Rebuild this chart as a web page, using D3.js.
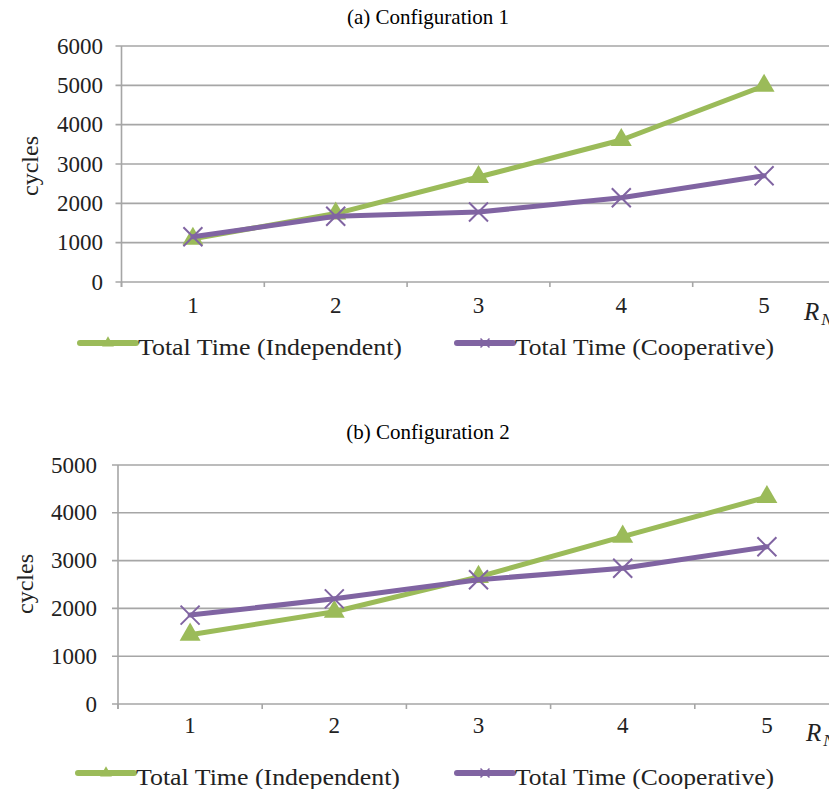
<!DOCTYPE html>
<html>
<head>
<meta charset="utf-8">
<script src="https://cdn.jsdelivr.net/npm/d3@7"></script>
<style>
  html, body { margin: 0; padding: 0; background: #ffffff; }
  svg { display: block; }
  text { font-family: "Liberation Serif", "Times New Roman", serif; fill: #222; }
</style>
</head>
<body>
<script>
// Ring count on the x axis
const categories = ["1", "2", "3", "4", "5"];

// Configuration 1 (cycles)
const independentA = [1100, 1740, 2670, 3610, 4990];
const cooperativeA = [1150, 1670, 1780, 2140, 2700];
const ticksA = [0, 1000, 2000, 3000, 4000, 5000, 6000];

// Configuration 2 (cycles)
const independentB = [1450, 1930, 2660, 3500, 4330];
const cooperativeB = [1860, 2200, 2600, 2840, 3290];
const ticksB = [0, 1000, 2000, 3000, 4000, 5000];

const seriesNames = ["Total Time (Independent)", "Total Time (Cooperative)"];
const GREEN = "#9bbb59";
const PURPLE = "#8064a2";
const GRID = "#a6a6a6";

const W = 829, H = 789;
const svg = d3.select("body").append("svg").attr("width", W).attr("height", H);

function panel(opts) {
  const g = svg.append("g");
  const x = d3.scaleBand().domain(categories).range([opts.left, opts.left + 5 * opts.band]).padding(0);
  const y = d3.scaleLinear().domain([0, d3.max(opts.ticks)]).range([opts.bottom, opts.top]);
  const cx = d => x(d) + x.bandwidth() / 2;

  // title
  g.append("text").attr("x", 428).attr("y", opts.titleY)
    .attr("text-anchor", "middle").style("font-size", "21px").style("fill", "#000")
    .text(opts.title);

  // horizontal gridlines and left ticks
  g.selectAll(".grid").data(opts.ticks).join("line")
    .attr("x1", opts.left - 6).attr("x2", W)
    .attr("y1", d => y(d)).attr("y2", d => y(d))
    .attr("stroke", GRID).attr("stroke-width", 1.6);

  // y axis line
  g.append("line").attr("x1", opts.left).attr("x2", opts.left)
    .attr("y1", y(d3.max(opts.ticks))).attr("y2", opts.bottom + 5)
    .attr("stroke", GRID).attr("stroke-width", 1.6);

  // x ticks at band boundaries
  const bounds = categories.map(c => x(c)).concat([x(categories[4]) + x.bandwidth()]);
  g.selectAll(".xt").data(bounds).join("line")
    .attr("x1", d => d).attr("x2", d => d)
    .attr("y1", opts.bottom).attr("y2", opts.bottom + 5)
    .attr("stroke", GRID).attr("stroke-width", 1.6);

  // y tick labels
  g.selectAll(".yl").data(opts.ticks).join("text")
    .attr("x", opts.labelRight).attr("y", d => y(d) + 7.5)
    .attr("text-anchor", "end").style("font-size", "23px")
    .text(d => d);

  // x tick labels
  g.selectAll(".xl").data(categories).join("text")
    .attr("x", d => cx(d)).attr("y", opts.xLabelY)
    .attr("text-anchor", "middle").style("font-size", "23px")
    .text(d => d);

  // x axis title R_N
  const rn = g.append("text").attr("x", opts.rnX).attr("y", opts.rnY)
    .style("font-size", "25px").style("font-style", "italic");
  rn.append("tspan").text("R");
  rn.append("tspan").attr("dy", 5).attr("dx", 2).style("font-size", "17px").text("N");

  // y axis title
  g.append("text")
    .attr("transform", `translate(${opts.cyclesX},${opts.cyclesY}) rotate(-90)`)
    .attr("text-anchor", "middle").style("font-size", "24px")
    .text("cycles");

  const line = d3.line().x((d, i) => cx(categories[i])).y(d => y(d));

  // independent series: line + triangles
  g.append("path").datum(opts.indep).attr("d", line)
    .attr("fill", "none").attr("stroke", GREEN).attr("stroke-width", 5)
    .attr("stroke-linejoin", "round").attr("stroke-linecap", "round");
  const tri = d3.symbol().type(d3.symbolTriangle).size(190);
  g.selectAll(".tri").data(opts.indep).join("path")
    .attr("d", tri)
    .attr("transform", (d, i) => `translate(${cx(categories[i])},${y(d)})`)
    .attr("fill", GREEN);

  // cooperative series: line + crosses
  g.append("path").datum(opts.coop).attr("d", line)
    .attr("fill", "none").attr("stroke", PURPLE).attr("stroke-width", 5)
    .attr("stroke-linejoin", "round").attr("stroke-linecap", "round");
  const s = 9.5;
  g.selectAll(".cross").data(opts.coop).join("path")
    .attr("d", `M${-s},${-s}L${s},${s}M${-s},${s}L${s},${-s}`)
    .attr("transform", (d, i) => `translate(${cx(categories[i])},${y(d)})`)
    .attr("fill", "none").attr("stroke", PURPLE).attr("stroke-width", 2);

  // legend
  const ly = opts.legendY;
  const items = [
    { name: seriesNames[0], color: GREEN, x1: opts.legX[0], mark: "tri" },
    { name: seriesNames[1], color: PURPLE, x1: opts.legX[1], mark: "cross" }
  ];
  items.forEach(it => {
    const lg = g.append("g");
    lg.append("line").attr("x1", it.x1).attr("x2", it.x1 + 56)
      .attr("y1", ly).attr("y2", ly)
      .attr("stroke", it.color).attr("stroke-width", 6).attr("stroke-linecap", "round");
    const mx = it.x1 + 28;
    if (it.mark === "tri") {
      lg.append("path").attr("d", d3.symbol().type(d3.symbolTriangle).size(60))
        .attr("transform", `translate(${mx},${ly})`).attr("fill", it.color);
    } else {
      const t = 4.5;
      lg.append("path").attr("d", `M${-t},${-t}L${t},${t}M${-t},${t}L${t},${-t}`)
        .attr("transform", `translate(${mx},${ly})`)
        .attr("stroke", it.color).attr("stroke-width", 1.5).attr("fill", "none");
    }
    lg.append("text").attr("x", it.x1 + 58).attr("y", ly + 12)
      .style("font-size", "23px")
      .attr("textLength", it.mark === "tri" ? 264 : 259).attr("lengthAdjust", "spacingAndGlyphs")
      .text(it.name);
  });
}

panel({
  title: "(a) Configuration 1", titleY: 24,
  left: 121.5, band: 142.8, top: 46, bottom: 282, ticks: ticksA,
  labelRight: 103, xLabelY: 313, rnX: 804, rnY: 320,
  cyclesX: 38, cyclesY: 166,
  indep: independentA, coop: cooperativeA,
  legendY: 343, legX: [80, 457]
});

panel({
  title: "(b) Configuration 2", titleY: 439,
  left: 118, band: 144.2, top: 465, bottom: 704, ticks: ticksB,
  labelRight: 97, xLabelY: 733, rnX: 806, rnY: 741,
  cyclesX: 33, cyclesY: 584,
  indep: independentB, coop: cooperativeB,
  legendY: 773, legX: [78, 457]
});
</script>
</body>
</html>
